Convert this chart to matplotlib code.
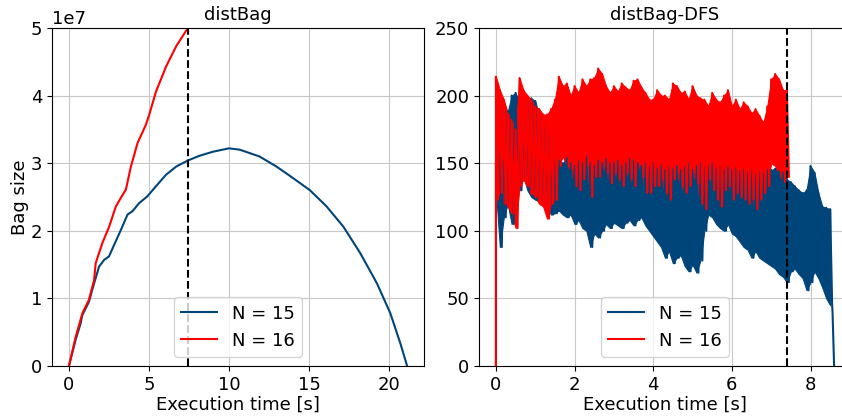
import numpy as np
import matplotlib
matplotlib.use('Agg')
import matplotlib.pyplot as plt

plt.rcParams['font.size'] = 13

# ---- distBag (left): smooth bag size curves
t15 = [0, 0.42, 0.73, 0.83, 1.25, 1.46, 1.88, 2.2, 2.5, 2.82, 3.24, 3.66, 3.97,
       4.39, 4.9, 5.44, 6.07, 6.7, 7.43, 8.16, 9.0, 10.0, 10.67, 11.9, 12.97,
       14.0, 15.06, 16.1, 17.15, 18.2, 19.25, 20.08, 20.7, 21.13]
bag15 = [0, 0.39, 0.63, 0.75, 0.95, 1.13, 1.47, 1.57, 1.62, 1.79, 2.01, 2.24, 2.29,
         2.41, 2.51, 2.66, 2.83, 2.95, 3.04, 3.11, 3.17, 3.22, 3.2, 3.1, 2.95,
         2.78, 2.6, 2.36, 2.06, 1.67, 1.22, 0.78, 0.34, 0]
t16 = [0, 0.42, 0.84, 1.25, 1.57, 1.67, 2.09, 2.51, 2.93, 3.35, 3.56, 3.87, 4.29,
       4.81, 5.02, 5.44, 6.07, 6.7, 7.43]
bag16 = [0, 0.43, 0.78, 0.98, 1.27, 1.52, 1.82, 2.06, 2.36, 2.53, 2.61, 2.95, 3.3,
         3.57, 3.72, 4.06, 4.43, 4.73, 5.0]
t_cut = 7.42

# ---- distBag-DFS (right): noisy bag size, read as max/min every 0.1 s
dt = 0.1
hi15 = [150, 180, 190, 188, 200, 202, 195, 190, 196, 198, 196, 185, 180, 175, 170,
        155, 152, 150, 154, 150, 148, 152, 150, 155, 150, 148, 152, 150, 153, 150,
        150, 152, 148, 150, 153, 152, 150, 148, 150, 147, 150, 146, 148, 145, 147,
        146, 148, 145, 147, 150, 145, 148, 150, 147, 148, 150, 146, 148, 145, 147,
        145, 146, 144, 145, 143, 145, 142, 144, 143, 145, 145, 146, 144, 143, 138,
        136, 133, 130, 128, 130, 148, 143, 128, 118, 117, 116]
lo15 = [130, 88, 110, 120, 105, 125, 130, 140, 130, 125, 123, 122, 125, 118, 112,
        113, 115, 112, 110, 112, 105, 108, 102, 100, 88, 98, 95, 100, 105, 102,
        106, 104, 102, 106, 108, 104, 108, 110, 104, 100, 96, 92, 88, 80, 85,
        76, 80, 82, 74, 70, 75, 69, 78, 100, 112, 110, 105, 102, 100, 105,
        98, 96, 92, 88, 86, 80, 85, 80, 78, 76, 74, 72, 68, 66, 62,
        70, 72, 68, 65, 56, 62, 70, 65, 58, 50, 45]
end15 = [40, 0]
end15_t = [8.56, 8.6]

hi16 = [214, 204, 197, 187, 182, 175, 213, 204, 200, 197, 192, 190, 186, 186, 190,
        197, 214, 207, 209, 200, 207, 202, 212, 207, 212, 213, 220, 216, 207, 202,
        207, 203, 209, 206, 204, 211, 212, 206, 202, 197, 197, 204, 200, 200, 197,
        209, 207, 202, 203, 197, 207, 200, 198, 197, 192, 202, 197, 195, 200, 204,
        192, 197, 190, 195, 192, 187, 190, 185, 180, 192, 212, 216, 212, 204, 204]
lo16 = [123, 128, 120, 118, 113, 102, 133, 138, 133, 127, 125, 120, 118, 109, 120,
        123, 148, 155, 148, 145, 133, 130, 138, 148, 125, 140, 140, 148, 143, 135,
        143, 138, 133, 143, 138, 133, 153, 140, 128, 128, 133, 133, 138, 128, 123,
        138, 143, 133, 128, 133, 143, 135, 120, 116, 138, 130, 123, 118, 130, 133,
        123, 128, 125, 123, 120, 123, 116, 123, 128, 133, 150, 148, 142, 136, 140]

c15 = '#00457a'
c16 = '#ff0000'


def zigzag(hi, lo):
    # alternate max and min of each 0.1 s bin, min half a bin later
    t = np.arange(len(hi)) * dt
    x = np.empty(2 * len(hi))
    y = np.empty(2 * len(hi))
    x[0::2], x[1::2] = t, t + dt / 2
    y[0::2], y[1::2] = hi, lo
    return t, x, y


fig = plt.figure(figsize=(8.42, 4.16), dpi=100)
ax1 = fig.add_axes([0.0618, 0.1202, 0.4418, 0.8125])
ax2 = fig.add_axes([0.5689, 0.1202, 0.4418, 0.8125])

ax1.plot(t15, np.array(bag15) * 1e7, color=c15, lw=1.5, label='N = 15')
ax1.plot(t16, np.array(bag16) * 1e7, color=c16, lw=1.5, label='N = 16')
ax1.axvline(t_cut, color='black', ls='--', lw=1.5, zorder=3)
ax1.set_ylim(0, 5e7)
ax1.set_title('distBag', fontsize=13)
ax1.set_xlabel('Execution time [s]', labelpad=1.5)
ax1.set_ylabel('Bag size', labelpad=1)
ax1.grid(True, color='#c8c8c8')
ax1.set_axisbelow(True)
ax1.legend(loc='lower center')

tb15, x15, y15 = zigzag(hi15, lo15)
x15 = np.concatenate([[0], x15, end15_t])
y15 = np.concatenate([[0], y15, end15])
tb16, x16, y16 = zigzag(hi16, lo16)
x16 = np.concatenate([[0], x16])
y16 = np.concatenate([[0], y16])
ax2.fill_between(tb15, lo15, hi15, facecolor=c15, edgecolor=c15, lw=0.8)
ax2.plot(x15, y15, color=c15, lw=1.5, label='N = 15')
ax2.fill_between(tb16, lo16, hi16, facecolor=c16, edgecolor=c16, lw=0.8)
ax2.plot(x16, y16, color=c16, lw=1.5, label='N = 16')
ax2.axvline(t_cut - 0.03, color='black', ls='--', lw=1.5, zorder=3)
ax2.set_ylim(0, 250)
ax2.set_title('distBag-DFS', fontsize=13)
ax2.set_xlabel('Execution time [s]', labelpad=1.5)
ax2.grid(True, color='#c8c8c8')
ax2.set_axisbelow(True)
ax2.legend(loc='lower center')

plt.savefig('out.png', dpi=100)
